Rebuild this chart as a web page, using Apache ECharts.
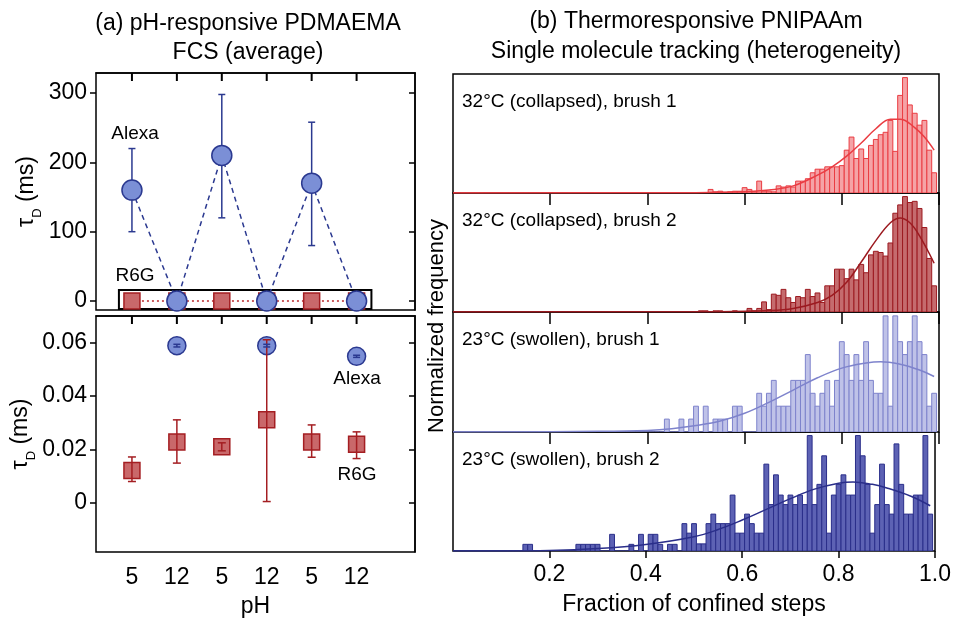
<!DOCTYPE html>
<html>
<head>
<meta charset="utf-8">
<script src="https://cdn.jsdelivr.net/npm/echarts@6/dist/echarts.min.js"></script>
<style>
html, body { margin: 0; padding: 0; background: #fff; }
#chart { width: 954px; height: 619px; }
</style>
</head>
<body>
<div id="chart"></div>
<script>
// (a) FCS averages, tau_D in ms
const pHLabels = ['5', '12', '5', '12', '5', '12'];
const pHPos = [1, 2, 3, 4, 5, 6];
const alexaMean = [160, 0.0589, 210, 0.0589, 170, 0.0549];
const alexaLow = [100, 0.0584, 120, 0.0584, 80, 0.0545];
const alexaHigh = [220, 0.0594, 298, 0.0594, 258, 0.0553];
const r6gMean = [0.0121, 0.0228, 0.021, 0.0311, 0.0228, 0.022];
const r6gLow = [0.008, 0.0149, 0.0195, 0.0005, 0.0171, 0.0166];
const r6gHigh = [0.0172, 0.0311, 0.0225, 0.0611, 0.0292, 0.0266];
const topTicks = [0, 100, 200, 300];
const bottomTicks = [0, 0.02, 0.04, 0.06];
const topRange = [-13, 329];
const bottomRange = [-0.0184, 0.07];
// zoom box drawn in the top panel
const zoomBox = [[0.71, -11.5], [6.33, 16]];

// (b) histograms of fraction of confined steps, bins of 0.01
const binCenters = Array.from({ length: 100 }, (_, i) => +(i * 0.01).toFixed(2));
const fracTicks = [0.2, 0.4, 0.6, 0.8, 1.0];
const hist1 = [
    0, 0, 0, 0, 0, 0, 0, 0, 0, 0,
    0, 0, 0, 0, 0, 0, 0, 0, 0, 0,
    0, 0, 0, 0, 0, 0, 0, 0, 0, 0,
    0, 0, 0, 0, 0, 0, 0, 0, 0, 0,
    0, 0, 0, 0, 0, 0, 0, 0, 0, 0,
    0, 0, 0, 0.03, 0.01, 0.015, 0.005, 0.01, 0.015, 0.015,
    0.045, 0.03, 0.01, 0.10, 0.015, 0.015, 0.01, 0.06, 0.05, 0.06,
    0.05, 0.10, 0.10, 0.12, 0.17, 0.20, 0.20, 0.22, 0.22, 0.22,
    0.23, 0.36, 0.47, 0.29, 0.37, 0.29, 0.40, 0.45, 0.49, 0.51,
    0.61, 0.35, 0.82, 0.97, 0.74, 0.67, 0.57, 0.61, 0.36, 0.17
];
const hist2 = [
    0, 0, 0, 0, 0, 0, 0, 0, 0, 0,
    0, 0, 0, 0, 0, 0, 0, 0, 0, 0,
    0, 0, 0, 0, 0, 0, 0, 0, 0, 0,
    0, 0, 0, 0, 0, 0, 0, 0, 0, 0,
    0, 0, 0, 0, 0, 0, 0, 0, 0, 0,
    0, 0.01, 0.01, 0, 0.01, 0.01, 0, 0, 0.01, 0,
    0, 0.03, 0.01, 0.03, 0.085, 0.02, 0.15, 0.14, 0.19, 0.12,
    0.08, 0.13, 0.12, 0.19, 0.13, 0.16, 0.08, 0.22, 0.22, 0.36,
    0.36, 0.28, 0.36, 0.27, 0.40, 0.33, 0.48, 0.51, 0.50, 0.47,
    0.58, 0.83, 0.90, 0.97, 0.92, 0.93, 0.87, 0.71, 0.45, 0.22
];
// counts
const hist3 = [
    0, 0, 0, 0, 0, 0, 0, 0, 0, 0,
    0, 0, 0, 0, 0, 0, 0, 0, 0, 0,
    0, 0, 0, 0, 0, 0, 0, 0, 0, 0,
    0, 0, 0, 0, 0, 0, 0, 0, 0, 0,
    0, 0, 0, 0, 1, 0, 0, 1, 0, 1,
    2, 0, 2, 0, 1, 1, 1, 0, 2, 2,
    0, 0, 0, 3, 2, 3, 4, 2, 2, 2,
    4, 4, 4, 6, 3, 2, 3, 4, 2, 4,
    7, 6, 4, 6, 4, 7, 4, 3, 3, 9,
    2, 9, 7, 6, 7, 9, 7, 6, 2, 3
];
const hist4 = [
    0, 0, 0, 0, 0, 0, 0, 0, 0, 0,
    0, 0, 0, 0, 0, 0.056, 0.056, 0, 0, 0,
    0, 0, 0, 0, 0, 0, 0.056, 0.056, 0.056, 0.056,
    0.056, 0, 0, 0.14, 0, 0, 0, 0.056, 0, 0.14,
    0, 0.14, 0.14, 0.056, 0, 0.056, 0.056, 0, 0.23, 0.15,
    0.23, 0.06, 0.06, 0.23, 0.31, 0.23, 0.23, 0.23, 0.47, 0.15,
    0.15, 0.31, 0.23, 0.15, 0.15, 0.73, 0.39, 0.64, 0.47, 0.39,
    0.47, 0.39, 0.47, 0.39, 0.97, 0.39, 0.56, 0.80, 0.15, 0.47,
    0.56, 0.64, 0.47, 0.47, 0.97, 0.80, 0.56, 0.15, 0.39, 0.73,
    0.39, 0.31, 0.90, 0.56, 0.31, 0.31, 0.47, 0.47, 0.97, 0.31
];
// gaussian fits
const fit1 = [[0, 0], [0.5, 0.003], [0.6, 0.01], [0.65, 0.025], [0.7, 0.06], [0.75, 0.15], [0.78, 0.22], [0.81, 0.31], [0.84, 0.42], [0.87, 0.54], [0.9, 0.62], [0.92, 0.62], [0.95, 0.55], [0.97, 0.47], [0.99, 0.36]];
const fit2 = [[0, 0], [0.55, 0.003], [0.65, 0.012], [0.7, 0.03], [0.75, 0.08], [0.78, 0.14], [0.81, 0.25], [0.84, 0.42], [0.87, 0.6], [0.9, 0.75], [0.92, 0.79], [0.94, 0.75], [0.96, 0.64], [0.99, 0.41]];
const fit3 = [[0, 0], [0.3, 0.05], [0.4, 0.12], [0.45, 0.25], [0.5, 0.5], [0.55, 0.85], [0.6, 1.45], [0.65, 2.3], [0.7, 3.25], [0.75, 4.2], [0.8, 4.95], [0.85, 5.35], [0.88, 5.45], [0.92, 5.25], [0.96, 4.8], [0.99, 4.3]];
const fit4 = [[0, 0], [0.2, 0.005], [0.3, 0.02], [0.4, 0.055], [0.5, 0.12], [0.55, 0.18], [0.6, 0.26], [0.65, 0.35], [0.7, 0.44], [0.75, 0.52], [0.8, 0.57], [0.83, 0.58], [0.87, 0.56], [0.9, 0.53], [0.95, 0.46], [0.99, 0.38]];
const panelLabels = ['32°C (collapsed), brush 1', '32°C (collapsed), brush 2', '23°C (swollen), brush 1', '23°C (swollen), brush 2'];

const FONT = '"Liberation Sans", Arial, sans-serif';
const BIN_HALF = 0.005;
const BLUE = '#2b3990', BLUE_FILL = '#7b8fd6';
const RED = '#a41e22', RED_FILL = '#c9686a';

const panels = [
    { hist: hist1, fit: fit1, yMax: 1, fill: '#f5a3a6', stroke: '#ea3c42' },
    { hist: hist2, fit: fit2, yMax: 1, fill: '#c56b6e', stroke: '#9c1a20' },
    { hist: hist3, fit: fit3, yMax: 9.3, fill: '#bfc2e8', stroke: '#7e83cc' },
    { hist: hist4, fit: fit4, yMax: 1, fill: '#5d62b4', stroke: '#2a2e8a' }
];
const panelTops = [74, 193, 312, 432];

function pairs(xs, ys) {
    return xs.map((x, i) => [x, ys[i]]);
}
function errData(xs, lo, hi) {
    return xs.map((x, i) => [x, lo[i], hi[i]]);
}

// error bar with caps
function errItem(color, cap) {
    return function (params, api) {
        const x = api.value(0);
        const lo = api.coord([x, api.value(1)]);
        const hi = api.coord([x, api.value(2)]);
        const style = { stroke: color, lineWidth: 1.5 };
        return {
            type: 'group',
            children: [
                { type: 'line', shape: { x1: lo[0], y1: lo[1], x2: hi[0], y2: hi[1] }, style },
                { type: 'line', shape: { x1: lo[0] - cap, y1: lo[1], x2: lo[0] + cap, y2: lo[1] }, style },
                { type: 'line', shape: { x1: hi[0] - cap, y1: hi[1], x2: hi[0] + cap, y2: hi[1] }, style }
            ]
        };
    };
}

// short tick hanging down from the top frame at each pH position
function topTickItem(params, api) {
    const p = api.coord([api.value(0), api.value(1)]);
    return {
        type: 'rect',
        shape: { x: p[0] - 1, y: p[1], width: 2, height: 8 },
        style: { fill: '#000' }
    };
}

// one histogram bin
function histItem(fill, stroke) {
    return function (params, api) {
        const x = api.value(0);
        const a = api.coord([x - BIN_HALF, api.value(1)]);
        const b = api.coord([x + BIN_HALF, 0]);
        return {
            type: 'rect',
            shape: { x: a[0], y: a[1], width: b[0] - a[0], height: b[1] - a[1] },
            style: { fill: fill, stroke: stroke, lineWidth: 1 }
        };
    };
}

const chart = echarts.init(document.getElementById('chart'));

const grids = [
    { left: 96, top: 73, width: 319, height: 237 },
    { left: 96, top: 316, width: 319, height: 236 }
];
panelTops.forEach((t, i) => {
    grids.push({ left: 453, top: t, width: 486, height: (i < 3 ? panelTops[i + 1] : 551) - t });
});
grids.forEach(g => Object.assign(g, { show: true, borderColor: '#000', borderWidth: 1.5, backgroundColor: 'transparent' }));

const tickStyle = { color: '#000', width: 1.5 };
const labelStyle = { color: '#000', fontSize: 23, fontFamily: FONT };
const blackLine = () => ({ show: true, onZero: false, lineStyle: { color: '#000', width: 1.5 } });

const xAxes = [0, 1].map(g => ({
    gridIndex: g, type: 'value', min: 0.2, max: 7.3, position: 'top',
    axisLine: blackLine(), splitLine: { show: false },
    axisLabel: { show: false }, axisTick: { show: false }
}));
xAxes.push({
    gridIndex: 1, type: 'value', min: 0.2, max: 7.3, position: 'bottom',
    axisLine: { show: false, onZero: false }, splitLine: { show: false }, axisTick: { show: false },
    axisLabel: Object.assign({ customValues: pHPos, margin: 14, formatter: v => pHLabels[pHPos.indexOf(v)] }, labelStyle),
    name: 'pH', nameLocation: 'middle', nameGap: 43, nameTextStyle: labelStyle
});
panels.forEach((p, i) => {
    const last = i === panels.length - 1;
    xAxes.push({
        gridIndex: 2 + i, type: 'value', min: 0, max: 1, position: 'bottom',
        axisLine: { show: false, onZero: false }, splitLine: { show: false },
        axisTick: { inside: false, length: last ? 7 : 12, customValues: fracTicks, lineStyle: tickStyle },
        axisLabel: Object.assign({ show: last, customValues: fracTicks, margin: 12, formatter: v => v.toFixed(1) }, labelStyle),
        name: last ? 'Fraction of confined steps' : '', nameLocation: 'middle', nameGap: 42, nameTextStyle: labelStyle
    });
});

const tauName = {
    name: 'τ{s|D} (ms)', nameLocation: 'middle', nameRotate: 90, nameGap: 58,
    nameTextStyle: Object.assign({ rich: { s: { fontSize: 13, fontFamily: FONT, color: '#000', verticalAlign: 'bottom', padding: [0, 0, -6, 0] } } }, labelStyle)
};
const yAxes = [
    Object.assign({
        gridIndex: 0, type: 'value', position: 'left', min: topRange[0], max: topRange[1],
        axisLine: { show: false, onZero: false }, splitLine: { show: false },
        axisTick: { inside: false, length: 6, customValues: topTicks, lineStyle: tickStyle },
        axisLabel: Object.assign({ customValues: topTicks, margin: 9 }, labelStyle)
    }, tauName),
    {
        gridIndex: 0, type: 'value', position: 'right', min: topRange[0], max: topRange[1],
        axisLine: blackLine(), splitLine: { show: false },
        axisLabel: { show: true, customValues: topTicks, formatter: () => '' },
        axisTick: { inside: true, length: 6, customValues: topTicks, lineStyle: tickStyle }
    },
    Object.assign({
        gridIndex: 1, type: 'value', position: 'left', min: bottomRange[0], max: bottomRange[1],
        axisLine: { show: false, onZero: false }, splitLine: { show: false },
        axisTick: { inside: false, length: 6, customValues: bottomTicks, lineStyle: tickStyle },
        axisLabel: Object.assign({ customValues: bottomTicks, margin: 9, formatter: v => v === 0 ? '0' : v.toFixed(2) }, labelStyle)
    }, tauName),
    {
        gridIndex: 1, type: 'value', position: 'right', min: bottomRange[0], max: bottomRange[1],
        axisLine: blackLine(), splitLine: { show: false },
        axisLabel: { show: true, customValues: bottomTicks, formatter: () => '' },
        axisTick: { inside: true, length: 6, customValues: bottomTicks, lineStyle: tickStyle }
    }
];
panels.forEach((p, i) => {
    yAxes.push({ gridIndex: 2 + i, type: 'value', min: 0, max: p.yMax, show: false });
});

const series = [
    // top panel
    {
        type: 'custom', xAxisIndex: 0, yAxisIndex: 0, z: 20,
        renderItem: topTickItem, encode: { x: 0, y: 1 },
        data: pHPos.map(x => [x, topRange[1]])
    },
    {
        type: 'line', xAxisIndex: 0, yAxisIndex: 0, z: 3,
        data: pairs(pHPos, r6gMean),
        symbol: 'rect', symbolSize: 16,
        itemStyle: { color: RED_FILL, borderColor: RED, borderWidth: 1.5 },
        lineStyle: { color: '#b8282b', width: 1.5, type: [2, 3] },
        markArea: {
            silent: true,
            itemStyle: { color: 'rgba(0,0,0,0)', borderColor: '#000', borderWidth: 2 },
            data: [[{ coord: zoomBox[0] }, { coord: zoomBox[1] }]]
        }
    },
    {
        type: 'custom', xAxisIndex: 0, yAxisIndex: 0, z: 4, clip: true,
        renderItem: errItem(BLUE, 3.5), encode: { x: 0, y: [1, 2] },
        data: errData(pHPos, alexaLow, alexaHigh)
    },
    {
        type: 'line', xAxisIndex: 0, yAxisIndex: 0, z: 5,
        data: pairs(pHPos, alexaMean),
        symbol: 'circle', symbolSize: 20,
        itemStyle: { color: BLUE_FILL, borderColor: BLUE, borderWidth: 1.5 },
        lineStyle: { color: BLUE, width: 1.5, type: [5, 4] }
    },
    // bottom panel
    {
        type: 'custom', xAxisIndex: 1, yAxisIndex: 2, z: 20,
        renderItem: topTickItem, encode: { x: 0, y: 1 },
        data: pHPos.map(x => [x, bottomRange[1]])
    },
    {
        type: 'scatter', xAxisIndex: 1, yAxisIndex: 2, z: 3, clip: true,
        data: pairs(pHPos, r6gMean), symbol: 'rect', symbolSize: 16,
        itemStyle: { color: RED_FILL, borderColor: RED, borderWidth: 1.5, opacity: 1 }
    },
    {
        type: 'scatter', xAxisIndex: 1, yAxisIndex: 2, z: 4, clip: true,
        data: pairs(pHPos, alexaMean), symbol: 'circle', symbolSize: 18,
        itemStyle: { color: BLUE_FILL, borderColor: BLUE, borderWidth: 1.5, opacity: 1 }
    },
    {
        type: 'custom', xAxisIndex: 1, yAxisIndex: 2, z: 5, clip: true,
        renderItem: errItem(RED, 4), encode: { x: 0, y: [1, 2] },
        data: errData(pHPos, r6gLow, r6gHigh)
    },
    {
        type: 'custom', xAxisIndex: 1, yAxisIndex: 2, z: 6, clip: true,
        renderItem: errItem(BLUE, 3.5), encode: { x: 0, y: [1, 2] },
        data: errData(pHPos, alexaLow, alexaHigh)
    }
];
panels.forEach((p, i) => {
    series.push({
        type: 'custom', xAxisIndex: 3 + i, yAxisIndex: 4 + i, z: 2, clip: true,
        renderItem: histItem(p.fill, p.stroke), encode: { x: 0, y: 1 },
        data: pairs(binCenters, p.hist)
    });
    series.push({
        type: 'line', xAxisIndex: 3 + i, yAxisIndex: 4 + i, z: 3,
        data: p.fit, smooth: 0.4, symbol: 'none',
        lineStyle: { color: p.stroke, width: 1.5 }
    });
});

function txt(text, x, y, size, align, rotation) {
    return {
        type: 'text', x: x, y: y, rotation: rotation || 0, z: 10,
        style: {
            text: text, fill: '#000', font: size + 'px ' + FONT,
            align: align || 'center', textAlign: align || 'center',
            verticalAlign: 'middle', textVerticalAlign: 'middle'
        }
    };
}

const graphics = [
    txt('(a) pH-responsive PDMAEMA', 248, 24, 23),
    txt('FCS (average)', 248, 53, 23),
    txt('(b) Thermoresponsive PNIPAAm', 696, 22, 23),
    txt('Single molecule tracking (heterogeneity)', 696, 52, 23),
    txt('Normalized frequency', 437, 326, 22, 'center', Math.PI / 2),
    txt('Alexa', 135, 134, 19),
    txt('R6G', 135, 276, 19),
    txt('Alexa', 357, 379, 19),
    txt('R6G', 357, 475, 19)
];
panelLabels.forEach((l, i) => graphics.push(txt(l, 462, panelTops[i] + 28, 19, 'left')));

chart.setOption({
    animation: false,
    textStyle: { fontFamily: FONT },
    grid: grids,
    xAxis: xAxes,
    yAxis: yAxes,
    series: series,
    graphic: graphics
});
</script>
</body>
</html>
